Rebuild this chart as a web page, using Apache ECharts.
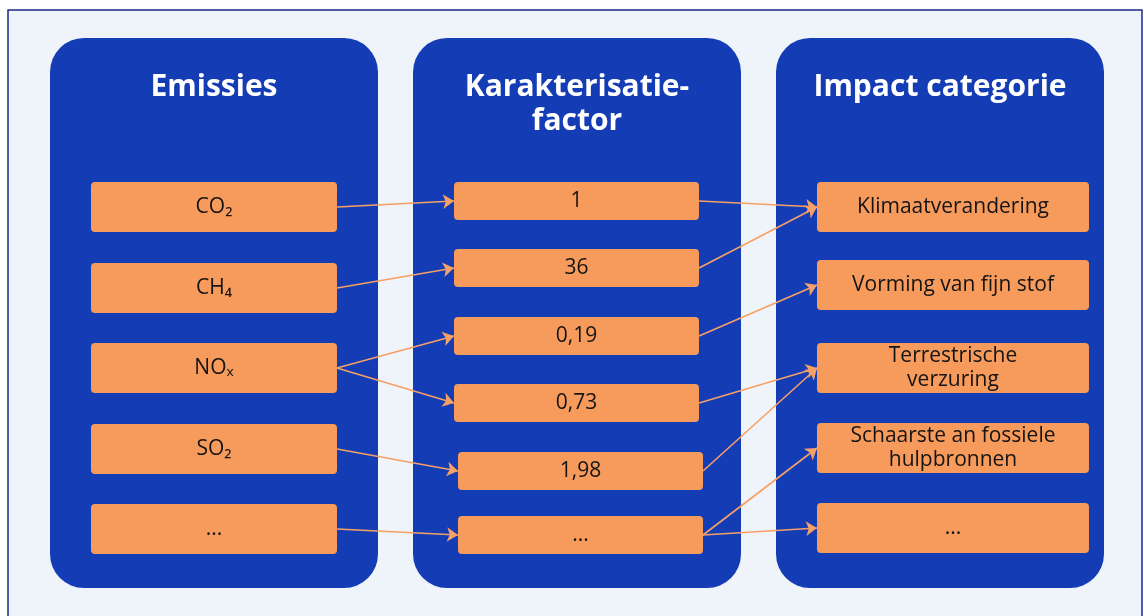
<!DOCTYPE html>
<html>
<head>
<meta charset="utf-8">
<script src="https://cdn.jsdelivr.net/npm/echarts@6/dist/echarts.min.js"></script>
<style>
  html, body { margin: 0; padding: 0; background: #ffffff; }
  #chart { width: 1144px; height: 616px; }
</style>
</head>
<body>
<div id="chart"></div>
<script>
// Data: the three columns and the links between them
var panelTitles = ['Emissies', 'Karakterisatie-\nfactor', 'Impact categorie'];
var emissies = ['CO₂', 'CH₄', 'NOₓ', 'SO₂', '...'];
var factoren = ['1', '36', '0,19', '0,73', '1,98', '...'];
var impacts = ['Klimaatverandering', 'Vorming van fijn stof', 'Terrestrische\nverzuring', 'Schaarste an fossiele\nhulpbronnen', '...'];
// [emissie index, factor index]
var linksEmissieFactor = [[0, 0], [1, 1], [2, 2], [2, 3], [3, 4], [4, 5]];
// [factor index, impact index]
var linksFactorImpact = [[0, 0], [1, 0], [2, 1], [3, 2], [4, 2], [5, 3], [5, 4]];

// Layout (pixel space of the hidden axes)
var panelLeft = [50, 413, 776], panelWidth = 328, panelTop = 38, panelBottom = 588;
var colLayout = [
    { left: [91, 91, 91, 91, 91], width: 246, height: 50, top: [182, 263, 343, 424, 504] },
    { left: [454, 454, 454, 454, 458, 458], width: 245, height: 38, top: [182, 249, 317, 384, 452, 516] },
    { left: [817, 817, 817, 817, 817], width: 272, height: 50, top: [182, 260, 343, 423, 503] }
];

var blue = '#133cb5', orange = '#f79b5c', lineOrange = '#f6a066';
var fontFamily = '"Open Sans", "Noto Sans", sans-serif';

var columns = [emissies, factoren, impacts];
var boxData = [];
columns.forEach(function(labels, c) {
    labels.forEach(function(label, i) {
        var l = colLayout[c];
        boxData.push([l.left[i], l.top[i], l.width, l.height, label]);
    });
});
var panelData = panelLeft.map(function(x, i) {
    return [x, panelTop, panelWidth, panelBottom - panelTop, panelTitles[i]];
});

function rightMid(c, i) {
    var l = colLayout[c];
    return [l.left[i] + l.width, l.top[i] + l.height / 2];
}
function leftMid(c, i) {
    var l = colLayout[c];
    return [l.left[i], l.top[i] + l.height / 2];
}
var arrowData = [];
linksEmissieFactor.forEach(function(p) {
    arrowData.push({ coords: [rightMid(0, p[0]), leftMid(1, p[1])] });
});
linksFactorImpact.forEach(function(p) {
    arrowData.push({ coords: [rightMid(1, p[0]), leftMid(2, p[1])] });
});

var chart = echarts.init(document.getElementById('chart'));
var option = {
    backgroundColor: '#ffffff',
    animation: false,
    grid: { left: 0, right: 0, top: 0, bottom: 0 },
    xAxis: { type: 'value', min: 0, max: 1144, show: false },
    yAxis: { type: 'value', min: 0, max: 616, inverse: true, show: false },
    series: [
        {
            // frame
            type: 'custom',
            silent: true,
            z: 1,
            data: [[8, 10, 1134, 620]],
            renderItem: function(params, api) {
                var p = api.coord([api.value(0), api.value(1)]);
                var s = api.size([api.value(2), api.value(3)]);
                return {
                    type: 'rect',
                    shape: { x: p[0], y: p[1], width: s[0], height: s[1] },
                    style: { fill: '#eff3fa', stroke: '#1a2a88', lineWidth: 1.5 }
                };
            }
        },
        {
            // panels with titles
            type: 'custom',
            silent: true,
            z: 2,
            data: panelData,
            renderItem: function(params, api) {
                var d = panelData[params.dataIndex];
                var p = api.coord([d[0], d[1]]);
                var s = api.size([d[2], d[3]]);
                return {
                    type: 'group',
                    children: [{
                        type: 'rect',
                        shape: { x: p[0], y: p[1], width: s[0], height: s[1], r: 34 },
                        style: { fill: blue }
                    }, {
                        type: 'text',
                        x: p[0] + s[0] / 2,
                        y: p[1] + 32,
                        style: {
                            text: d[4],
                            fill: '#ffffff',
                            font: 'bold 30px ' + fontFamily,
                            lineHeight: 34,
                            align: 'center',
                            verticalAlign: 'top'
                        }
                    }]
                };
            }
        },
        {
            // boxes
            type: 'custom',
            silent: true,
            z: 3,
            data: boxData,
            renderItem: function(params, api) {
                var d = boxData[params.dataIndex];
                var p = api.coord([d[0], d[1]]);
                var s = api.size([d[2], d[3]]);
                return {
                    type: 'group',
                    children: [{
                        type: 'rect',
                        shape: { x: p[0], y: p[1], width: s[0], height: s[1], r: 4 },
                        style: { fill: orange }
                    }, {
                        type: 'text',
                        x: p[0] + s[0] / 2,
                        y: p[1] + s[1] / 2,
                        style: {
                            text: d[4],
                            fill: '#141414',
                            font: '21px ' + fontFamily,
                            lineHeight: 24,
                            align: 'center',
                            verticalAlign: 'middle'
                        }
                    }]
                };
            }
        },
        {
            type: 'lines',
            coordinateSystem: 'cartesian2d',
            z: 4,
            silent: true,
            symbol: ['none', 'arrow'],
            symbolSize: 11,
            lineStyle: { color: lineOrange, width: 1.6, opacity: 1 },
            data: arrowData
        }
    ]
};
chart.setOption(option);
</script>
</body>
</html>
